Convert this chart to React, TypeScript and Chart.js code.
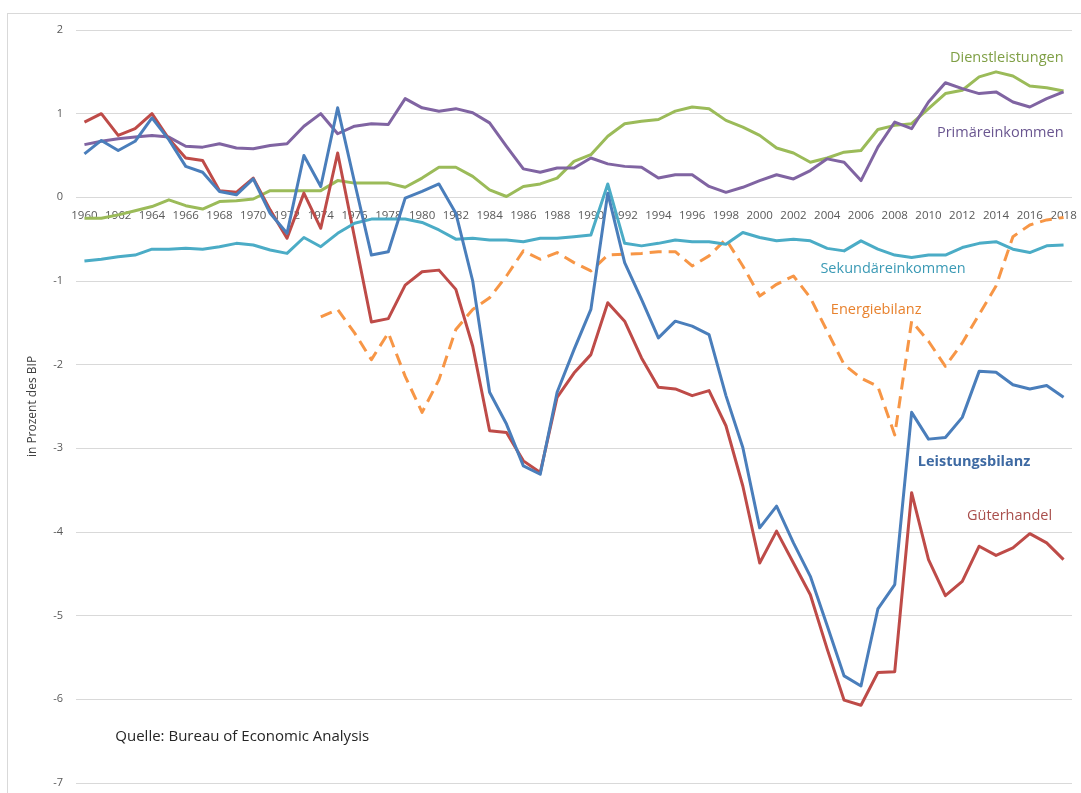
import React, { useEffect, useRef } from "react";
import { Chart, registerables } from "chart.js";

Chart.register(...registerables);

const years = [
  "1960", "1961", "1962", "1963", "1964", "1965", "1966", "1967", "1968", "1969",
  "1970", "1971", "1972", "1973", "1974", "1975", "1976", "1977", "1978", "1979",
  "1980", "1981", "1982", "1983", "1984", "1985", "1986", "1987", "1988", "1989",
  "1990", "1991", "1992", "1993", "1994", "1995", "1996", "1997", "1998", "1999",
  "2000", "2001", "2002", "2003", "2004", "2005", "2006", "2007", "2008", "2009",
  "2010", "2011", "2012", "2013", "2014", "2015", "2016", "2017", "2018",
];

const leistungsbilanz = [
  0.52, 0.68, 0.56, 0.67, 0.95, 0.69, 0.37, 0.30, 0.07, 0.03,
  0.22, -0.19, -0.43, 0.50, 0.13, 1.07, 0.18, -0.69, -0.65, -0.01,
  0.07, 0.16, -0.19, -1.00, -2.33, -2.71, -3.21, -3.31, -2.33, -1.82,
  -1.34, 0.05, -0.78, -1.22, -1.68, -1.48, -1.54, -1.64, -2.37, -2.99,
  -3.95, -3.69, -4.13, -4.53, -5.12, -5.72, -5.84, -4.92, -4.63, -2.57,
  -2.89, -2.87, -2.63, -2.08, -2.09, -2.24, -2.29, -2.25, -2.39,
];

const gueterhandel = [
  0.90, 1.00, 0.74, 0.82, 1.00, 0.70, 0.47, 0.44, 0.08, 0.06,
  0.23, -0.15, -0.49, 0.05, -0.37, 0.53, -0.48, -1.49, -1.45, -1.05,
  -0.89, -0.87, -1.10, -1.78, -2.79, -2.81, -3.15, -3.29, -2.39, -2.10,
  -1.88, -1.26, -1.48, -1.92, -2.27, -2.29, -2.37, -2.31, -2.73, -3.45,
  -4.37, -3.99, -4.37, -4.75, -5.40, -6.01, -6.07, -5.68, -5.67, -3.53,
  -4.33, -4.76, -4.59, -4.17, -4.28, -4.19, -4.02, -4.13, -4.33,
];

const dienstleistungen = [
  -0.25, -0.25, -0.21, -0.16, -0.11, -0.03, -0.10, -0.14, -0.05, -0.04,
  -0.02, 0.08, 0.08, 0.08, 0.08, 0.20, 0.17, 0.17, 0.17, 0.12,
  0.23, 0.36, 0.36, 0.25, 0.09, 0.01, 0.13, 0.16, 0.23, 0.43,
  0.51, 0.73, 0.88, 0.91, 0.93, 1.03, 1.08, 1.06, 0.92, 0.84,
  0.74, 0.59, 0.53, 0.42, 0.47, 0.54, 0.56, 0.81, 0.86, 0.88,
  1.06, 1.24, 1.28, 1.44, 1.50, 1.45, 1.33, 1.31, 1.27,
];

const primaereinkommen = [
  0.63, 0.67, 0.70, 0.72, 0.74, 0.72, 0.61, 0.60, 0.64, 0.59,
  0.58, 0.62, 0.64, 0.85, 1.00, 0.76, 0.85, 0.88, 0.87, 1.18,
  1.07, 1.03, 1.06, 1.01, 0.89, 0.61, 0.34, 0.30, 0.35, 0.35,
  0.47, 0.40, 0.37, 0.36, 0.23, 0.27, 0.27, 0.13, 0.06, 0.12,
  0.20, 0.27, 0.22, 0.32, 0.46, 0.42, 0.20, 0.60, 0.90, 0.82,
  1.14, 1.37, 1.30, 1.24, 1.26, 1.14, 1.08, 1.18, 1.26,
];

const sekundaereinkommen = [
  -0.76, -0.74, -0.71, -0.69, -0.62, -0.62, -0.61, -0.62, -0.59, -0.55,
  -0.57, -0.63, -0.67, -0.48, -0.59, -0.43, -0.31, -0.26, -0.26, -0.26,
  -0.30, -0.39, -0.50, -0.49, -0.51, -0.51, -0.53, -0.49, -0.49, -0.47,
  -0.45, 0.16, -0.55, -0.58, -0.55, -0.51, -0.53, -0.53, -0.56, -0.42,
  -0.48, -0.52, -0.50, -0.52, -0.61, -0.64, -0.52, -0.62, -0.69, -0.72,
  -0.69, -0.69, -0.60, -0.55, -0.53, -0.62, -0.66, -0.58, -0.57,
];

const energiebilanz = [
  null, null, null, null, null, null, null, null, null, null,
  null, null, null, null, -1.43, -1.34, -1.62, -1.94, -1.62, -2.14,
  -2.57, -2.18, -1.58, -1.34, -1.20, -0.94, -0.64, -0.74, -0.66, -0.78,
  -0.88, -0.69, -0.68, -0.67, -0.65, -0.65, -0.82, -0.70, -0.50, -0.82,
  -1.18, -1.04, -0.94, -1.20, -1.60, -2.00, -2.16, -2.26, -2.84, -1.48,
  -1.72, -2.02, -1.74, -1.40, -1.06, -0.47, -0.33, -0.27, -0.24,
];

const FONT = "'Open Sans', 'Liberation Sans', sans-serif";

// text labels placed in data coordinates (x = year index, y = value)
const annotations = [
  { text: "Dienstleistungen", xi: 58, yv: 1.67, align: "right", color: "#7f9f45", bold: false, size: 14.5 },
  { text: "Primäreinkommen", xi: 58, yv: 0.77, align: "right", color: "#6a5690", bold: false, size: 14.5 },
  { text: "Sekundäreinkommen", xi: 47.9, yv: -0.86, align: "center", color: "#3b9ab5", bold: false, size: 14.5 },
  { text: "Energiebilanz", xi: 46.9, yv: -1.34, align: "center", color: "#e8822e", bold: false, size: 14.5 },
  { text: "Leistungsbilanz", xi: 52.7, yv: -3.16, align: "center", color: "#3e6aa3", bold: true, size: 14.5 },
  { text: "Güterhandel", xi: 54.8, yv: -3.81, align: "center", color: "#a94f4c", bold: false, size: 14.5 },
  { text: "Quelle: Bureau of Economic Analysis", xi: 1.83, yv: -6.45, align: "left", color: "#262626", bold: false, size: 15 },
];

const yTitle = "in Prozent des BIP";

const annotationPlugin = {
  id: "annotations",
  afterDatasetsDraw(chart: any) {
    const { ctx } = chart;
    const xs = chart.scales.x;
    const ys = chart.scales.y;
    ctx.save();
    ctx.textBaseline = "middle";
    for (const a of annotations) {
      ctx.font = `${a.bold ? "bold " : ""}${a.size}px ${FONT}`;
      ctx.fillStyle = a.color;
      ctx.textAlign = a.align;
      ctx.fillText(a.text, xs.getPixelForValue(a.xi), ys.getPixelForValue(a.yv));
    }
    ctx.translate(chart.chartArea.left - 43, ys.getPixelForValue(-2.5));
    ctx.rotate(-Math.PI / 2);
    ctx.textAlign = "center";
    ctx.font = `12px ${FONT}`;
    ctx.fillStyle = "#404040";
    ctx.fillText(yTitle, 0, 0);
    ctx.restore();
  },
};

export default function App() {
  const ref = useRef<HTMLCanvasElement | null>(null);

  useEffect(() => {
    if (!ref.current) return;
    const line = (label: string, data: any[], color: string, dash?: number[]) => ({
      label,
      data,
      borderColor: color,
      backgroundColor: color,
      borderWidth: 3,
      borderDash: dash || [],
      borderJoinStyle: "round" as const,
      borderCapStyle: "butt" as const,
      pointRadius: 0,
      tension: 0,
      fill: false,
      spanGaps: false,
    });
    const chart = new Chart(ref.current, {
      type: "line",
      data: {
        labels: years,
        datasets: [
          line("Leistungsbilanz", leistungsbilanz, "rgb(74,126,187)"),
          line("Sekundäreinkommen", sekundaereinkommen, "rgb(75,172,198)"),
          line("Güterhandel", gueterhandel, "rgb(190,75,72)"),
          line("Energiebilanz", energiebilanz, "rgb(247,150,70)", [12, 7]),
          line("Primäreinkommen", primaereinkommen, "rgb(128,100,162)"),
          line("Dienstleistungen", dienstleistungen, "rgb(155,187,89)"),
        ],
      },
      options: {
        responsive: false,
        animation: false,
        layout: { padding: { top: 30, bottom: 10, right: 9, left: 0 } },
        plugins: { legend: { display: false }, tooltip: { enabled: false } },
        scales: {
          x: {
            type: "category",
            position: { y: 0 },
            offset: true,
            grid: { display: false, drawTicks: false },
            border: { display: false },
            ticks: {
              autoSkip: false,
              maxRotation: 0,
              minRotation: 0,
              padding: 11,
              color: "#595959",
              font: { family: FONT, size: 11.5 },
              callback: (_v: any, i: number) => (i % 2 === 0 ? years[i] : ""),
            },
            afterFit: (s: any) => {
              s.height = 0;
              s.paddingLeft = 0;
              s.paddingRight = 0;
              s.paddingTop = 0;
              s.paddingBottom = 0;
            },
          },
          y: {
            min: -7,
            max: 2,
            ticks: {
              stepSize: 1,
              padding: 13,
              color: "#595959",
              font: { family: FONT, size: 11 },
            },
            grid: { color: "#d9d9d9", lineWidth: 1, drawTicks: false },
            border: { display: false },
            afterFit: (s: any) => {
              s.width = 76;
              s.paddingTop = 0;
              s.paddingBottom = 0;
              s.paddingLeft = 0;
              s.paddingRight = 0;
            },
          },
        },
      } as any,
      plugins: [annotationPlugin],
    });
    return () => chart.destroy();
  }, []);

  return (
    <div style={{ position: "absolute", left: 0, top: 0, width: 1081, height: 793, background: "#fff", overflow: "hidden" }}>
      <div
        style={{
          position: "absolute",
          left: 7,
          top: 13,
          width: 1100,
          height: 800,
          borderLeft: "1px solid #d9d9d9",
          borderTop: "1px solid #d9d9d9",
        }}
      />
      <canvas ref={ref} width={1081} height={793} style={{ position: "absolute", left: 0, top: 0, width: 1081, height: 793 }} />
    </div>
  );
}
